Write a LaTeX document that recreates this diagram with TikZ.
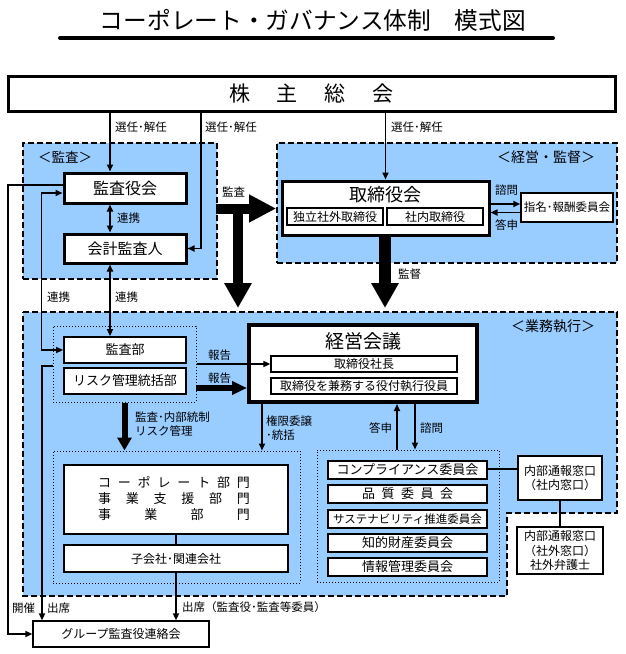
\documentclass[tikz,border=0pt]{standalone}
\usepackage{fontspec}
\setmainfont{Noto Sans CJK JP}
\usetikzlibrary{arrows.meta}
\definecolor{lb}{RGB}{153,204,255}
\newcommand\myfs[1]{\fontsize{#1}{#1}\selectfont}
\begin{document}
\begin{tikzpicture}[x=1pt,y=-1pt,
 region/.style={draw,fill=lb,line width=1.6pt,dash pattern=on 6pt off 3pt,inner sep=0pt},
 dotbox/.style={draw,line width=1pt,dotted,inner sep=0pt},
 bx/.style={draw,fill=white,inner sep=0pt,line width=1.5pt},
 tbx/.style={draw,fill=white,inner sep=0pt,line width=3pt},
 conn/.style={line width=1.6pt},
 arr/.style={conn,-{Triangle[length=7pt,width=6pt]}},
 darr/.style={conn,{Triangle[length=7pt,width=6pt]}-{Triangle[length=7pt,width=6pt]}},
 lbl/.style={anchor=west,inner sep=0pt,font={\myfs{11.5}}},
 txt/.style={inner sep=0pt},
]
\useasboundingbox (0,0) rectangle (625,654);

% title
\node[txt] (title) at (313,20) {\myfs{23.7}コーポレート・ガバナンス体制　模式図};
\coordinate (ul1) at (60,38);
\coordinate (ul2) at (553,38);
\draw[line width=4pt,line cap=round] (ul1) -- (ul2);

% regions
\node[region,minimum width=194pt,minimum height=136pt] (rkansa) at (120,211) {};
\node[region,minimum width=340pt,minimum height=120pt] (rkeiei) at (447,203) {};
\draw[region] (23,312) -- (617,312) -- (617,513) -- (507,513) -- (507,596) -- (23,596) -- cycle;
\node[txt] (lkansa) at (65,157) {\myfs{13.5}＜監査＞};
\node[txt] (lkeiei) at (546,157) {\myfs{14}＜経営・監督＞};
\node[txt] (lgyomu) at (553,326) {\myfs{14}＜業務執行＞};

% dotted boxes
\node[dotbox,minimum width=143pt,minimum height=76pt] (dotA) at (124.5,364) {};
\node[dotbox,minimum width=247pt,minimum height=132pt] (dotCorp) at (176.5,517) {};
\node[dotbox,minimum width=182pt,minimum height=132pt] (dotComm) at (408,516) {};

% shareholders
\node[tbx,minimum width=607pt,minimum height=35pt] (kabu) at (311.5,93.5)
  {\myfs{21}株\hspace{27pt}主\hspace{27pt}総\hspace{27pt}会};

% audit
\node[tbx,minimum width=122pt,minimum height=30pt] (kansayaku) at (125,188) {\myfs{16}監査役会};
\node[tbx,minimum width=122pt,minimum height=29pt] (kaikei) at (125,248.5) {\myfs{15}会計監査人};

% board
\node[tbx,minimum width=207pt,minimum height=54pt] (tori) at (385.5,208) {};
\node[txt] (toritl) at (385.5,195) {\myfs{18}取締役会};
\node[bx,line width=1.2pt,minimum width=96pt,minimum height=17pt] (dokuritsu) at (335,216.5) {\myfs{12}独立社外取締役};
\node[bx,line width=1.2pt,minimum width=96pt,minimum height=17pt] (shanai) at (435,216.5) {\myfs{12}社内取締役};
\node[bx,minimum width=92pt,minimum height=29pt] (shimei) at (567,207.5) {\myfs{11.5}指名･報酬委員会};

% management meeting
\node[draw,fill=white,inner sep=0pt,line width=4pt,minimum width=228pt,minimum height=77pt] (keiei) at (363,363.5) {};
\node[txt] (keieitl) at (363,341) {\myfs{19}経営会議};
\node[bx,line width=1.2pt,minimum width=186pt,minimum height=16pt] (shacho) at (364,364) {\myfs{12}取締役社長};
\node[bx,line width=1.2pt,minimum width=186pt,minimum height=16pt] (kenmu) at (364,386) {\myfs{12}取締役を兼務する役付執行役員};

% audit dept
\node[bx,line width=1.8pt,minimum width=122pt,minimum height=26pt] (kansabu) at (125,350) {\myfs{13}監査部};
\node[bx,line width=1.8pt,minimum width=122pt,minimum height=26pt] (risk) at (125,381) {\myfs{13}リスク管理統括部};

% corporate
\node[bx,line width=1.8pt,minimum width=224pt,minimum height=69pt] (corp) at (176,499.5) {};
\node[txt,align=center,font={\fontsize{13}{16}\selectfont}] (corptxt) at (174,499) {%
 \makebox[152pt]{コ\hfill ー\hfill ポ\hfill レ\hfill ー\hfill ト\hfill 部\hfill 門}\\
 \makebox[152pt]{事\hfill 業\hfill 支\hfill 援\hfill 部\hfill 門}\\
 \makebox[152pt]{事\hfill 業\hfill 部\hfill 門}};
\node[bx,line width=1.8pt,minimum width=224pt,minimum height=27pt] (kogaisha) at (176,558.5) {\myfs{12}子会社･関連会社};
\node[bx,line width=1.2pt,minimum width=176pt,minimum height=26pt] (group) at (121,634) {\myfs{12}グループ監査役連絡会};

% committees
\node[bx,minimum width=159pt,minimum height=18pt] (comp) at (407.5,470) {\myfs{13}コンプライアンス委員会};
\node[bx,minimum width=159pt,minimum height=18pt] (hinshitsu) at (407.5,494) {\myfs{13}\makebox[91pt]{品\hfill 質\hfill 委\hfill 員\hfill 会}};
\node[bx,minimum width=159pt,minimum height=18pt] (sustain) at (407.5,519) {\myfs{11.5}サステナビリティ推進委員会};
\node[bx,minimum width=159pt,minimum height=18pt] (chizai) at (407.5,543) {\myfs{13}知的財産委員会};
\node[bx,minimum width=159pt,minimum height=18pt] (joho) at (407.5,567) {\myfs{13}情報管理委員会};
\node[bx,minimum width=84pt,minimum height=44pt,align=center,font={\fontsize{12}{13.5}\selectfont}] (naibu1) at (560,478) {内部通報窓口\\（社内窓口）};
\node[bx,minimum width=86pt,minimum height=47pt,align=center,font={\fontsize{12}{14.5}\selectfont}] (naibu2) at (560,550.5) {内部通報窓口\\（社外窓口）\\社外弁護士};

% helper x-coordinates
\coordinate (xa) at (110,0);
\coordinate (xb) at (201,0);
\coordinate (xd) at (8,0);
\coordinate (xe) at (42,0);
\coordinate (xk) at (262,0);
\coordinate (xt) at (397,0);
\coordinate (xs) at (415,0);
\coordinate (s1) at (53,366);

% shareholder arrows
\draw[arr] (kabu.south -| xa) -- (kansayaku.north -| xa);
\draw[arr] (kabu.south -| xb) |- (kaikei.east);
\draw[arr] (kabu.south -| tori.north) -- (tori.north);
\node[lbl] (l1) at (115,127) {選任･解任};
\node[lbl] (l2) at (205,127) {選任･解任};
\node[lbl] (l3) at (391,127) {選任･解任};

% audit links
\draw[darr] (kansayaku.south -| xa) -- (kaikei.north -| xa);
\node[lbl] (l4) at (117,218) {連携};
\draw[darr] (kaikei.south -| xa) -- (kansabu.north -| xa);
\node[lbl] (l5) at (115,297) {連携};
\draw[darr] ([yshift=-5pt]kansayaku.west) -- ++(-21,0) |- (kansabu.west);
\node[lbl] (l6) at (47,297) {連携};
\draw[arr] ([yshift=3pt]kansayaku.west) -| (xd |- group.west) -- (group.west);
\node[lbl] (l7) at (12,608) {開催};
\draw[arr] (s1) -| (group.north -| xe);
\node[lbl] (l8) at (47,608) {出席};
\draw[arr] (kogaisha.south) -- (kogaisha.south |- group.north);
\node[lbl] (l9) at (182,607) {出席（監査役･監査等委員）};
\draw[conn] (corp.south) -- (kogaisha.north);

% big arrows
\coordinate (h1) at (216,208.5);
\coordinate (h2) at (rkeiei.west |- h1);
\draw[line width=10pt,-{Triangle[length=27pt,width=26pt]}] (h1) -- (h2);
\coordinate (v1) at (238,204);
\coordinate (v2) at (238,308);
\draw[line width=10pt,-{Triangle[length=25pt,width=26pt]}] (v1) -- (v2);
\node[lbl] (l10) at (222,192) {監査};
\coordinate (k1) at (385,308);
\draw[line width=12pt,-{Triangle[length=25pt,width=26pt]}] (tori.south -| k1) -- (k1);
\node[lbl] (l11) at (398,274) {監督};

% nomination committee
\coordinate (c0) at ([yshift=4pt]tori.east);
\draw[arr] (c0) -- (c0 -| shimei.west);
\coordinate (c1) at ([yshift=-5pt]shimei.west);
\draw[arr] (c1) -- (c1 -| tori.east);
\node[lbl] (l12) at (495,190) {諮問};
\node[lbl] (l13) at (495,225) {答申};

% reports
\draw[arr] (dotA.east |- shacho.west) -- (shacho.west);
\node[lbl] (l14) at (208,355) {報告};
\coordinate (r1) at (196,388);
\draw[line width=6pt,-{Triangle[length=15pt,width=13pt]}] (r1) -- (r1 -| keiei.west);
\node[lbl] (l15) at (208,378) {報告};

% down to corporate
\draw[line width=6pt,-{Triangle[length=13pt,width=14pt]}] (dotA.south) -- (dotA.south |- dotCorp.north);
\node[lbl] (l16) at (135,417) {監査･内部統制};
\node[lbl] (l17) at (135,431) {リスク管理};
\draw[arr] (keiei.south -| xk) -- (dotCorp.north -| xk);
\node[lbl] (l18) at (266,421) {権限委譲};
\node[lbl] (l19) at (266,435) {･統括};

% committees links
\draw[arr] (dotComm.north -| xt) -- (keiei.south -| xt);
\draw[arr] (keiei.south -| xs) -- (dotComm.north -| xs);
\node[lbl] (l20) at (369,428) {答申};
\node[lbl] (l21) at (420,428) {諮問};
\draw[conn] ([yshift=1pt]comp.east) -- ([yshift=1pt]comp.east -| naibu1.west);
\draw[conn] (naibu1.south) -- (naibu1.south |- naibu2.north);
\end{tikzpicture}
\end{document}
